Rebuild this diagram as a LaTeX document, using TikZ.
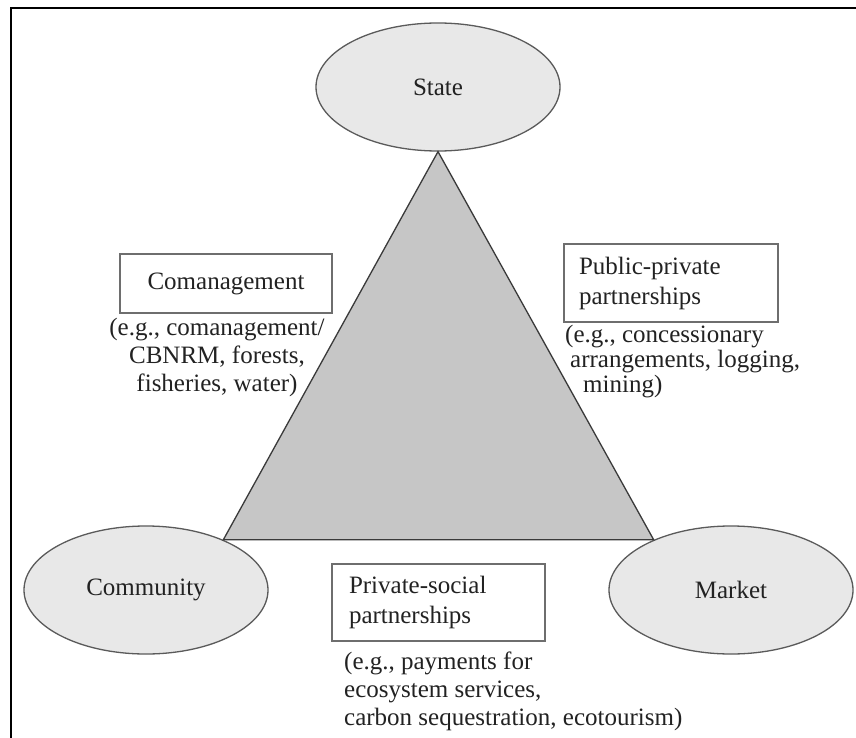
\documentclass[tikz,border=0pt]{standalone}
\usepackage{fontspec}
\setmainfont{Liberation Serif}
\usetikzlibrary{shapes.geometric}
\definecolor{ovalfill}{HTML}{E8E8E8}
\definecolor{ovalline}{HTML}{5A5A5A}
\definecolor{trifill}{HTML}{C6C6C6}
\definecolor{triline}{HTML}{3A3A3A}
\definecolor{boxline}{HTML}{6E6E6E}
\definecolor{inktext}{HTML}{222222}

\begin{document}
\begin{tikzpicture}[x=1pt,y=-1pt,
  oval/.style={ellipse,draw=ovalline,line width=1.3pt,fill=ovalfill,inner sep=0pt,
    minimum width=244pt,minimum height=128pt,text=inktext,font=\fontsize{25}{28}\selectfont},
  tagbox/.style={draw=boxline,line width=1.2pt,fill=white,inner ysep=0pt,text=inktext,
    font=\fontsize{25}{30}\selectfont},
  example/.style={inner sep=0pt,text=inktext,font=\fontsize{25}{28}\selectfont}]
\useasboundingbox (0,0) rectangle (856,738);
\fill[white] (0,0) rectangle (856,738);
% Frame
\draw[line width=2pt] (11,738) -- (11,8) -- (856,8);
% Sectors
\node[oval] (state) at (438,87) {State};
\node[oval] (community) at (146,590) {Community};
\node[oval] (market) at (731,590) {Market};
\filldraw[fill=trifill,draw=triline,line width=1.3pt]
  (state.south) -- (community.33) -- (market.147) -- cycle;
% Partnerships
\node[tagbox,minimum width=212pt,minimum height=59pt] (comgmt) at (226,283.5) {Comanagement};
\node[tagbox,text width=184pt,inner xsep=15pt,minimum height=78pt,align=left] (ppp) at (671,283)
  {Public-private\\partnerships};
\node[tagbox,text width=179pt,inner xsep=17pt,minimum height=77pt,align=left] (psp) at (438.5,602.5)
  {Private-social\\partnerships};
% Examples
\node[example,align=center] (comgmt ex) at (217,357)
  {(e.g., comanagement/\\CBNRM, forests,\\fisheries, water)};
\node[example,align=left,anchor=west,font=\fontsize{25}{25}\selectfont] (ppp ex) at (565,362)
  {(e.g., concessionary\\\hspace*{5pt}arrangements, logging,\\\hspace*{18pt}mining)};
\node[example,align=left,anchor=west] (psp ex) at (344,691)
  {(e.g., payments for\\ecosystem services,\\carbon sequestration, ecotourism)};
\end{tikzpicture}
\end{document}
